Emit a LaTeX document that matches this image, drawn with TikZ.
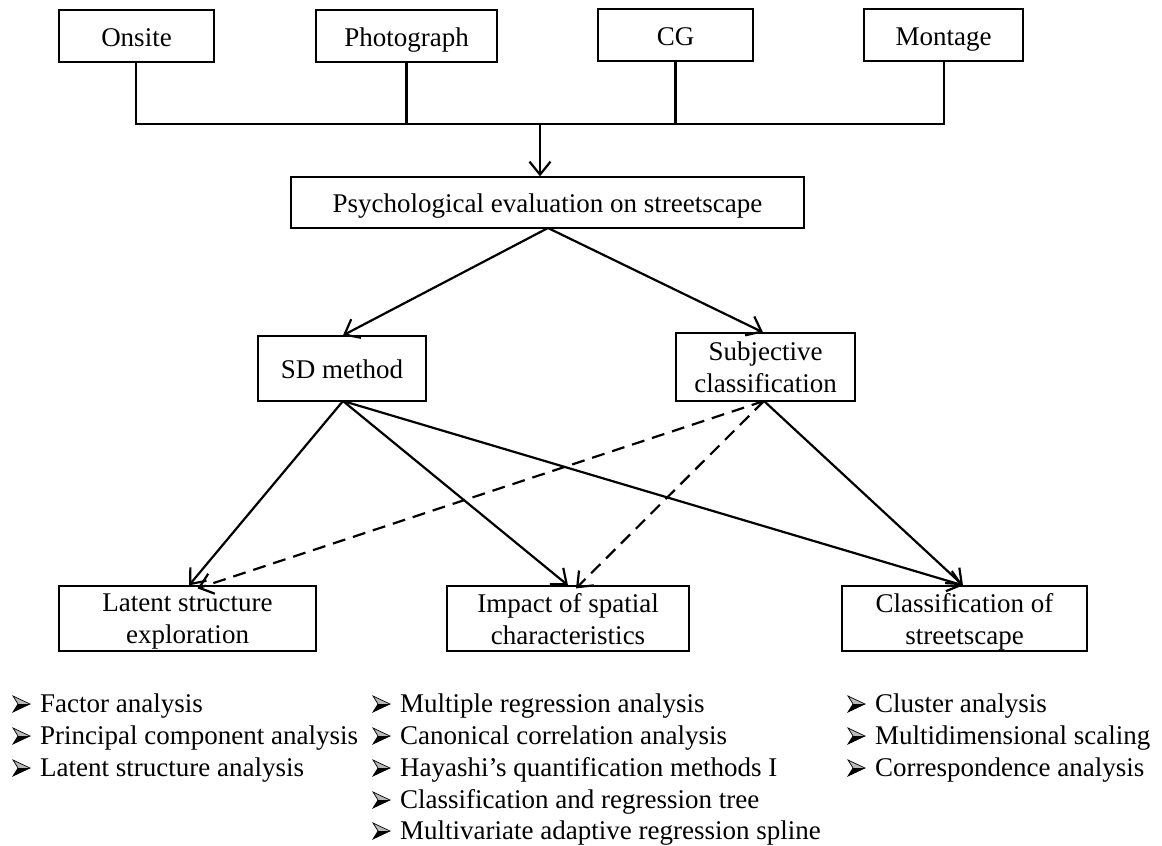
\documentclass[tikz,border=0pt]{standalone}
\usepackage{fontspec}
\setmainfont{Liberation Serif}
\usetikzlibrary{arrows.meta}
\begin{document}
\begin{tikzpicture}[x=1pt,y=-1pt,
  box/.style={draw, line width=1.3pt, inner sep=0pt, font=\fontsize{27}{32}\selectfont, align=center},
  onebox/.style={box, text height=20pt, text depth=0pt},
  conn/.style={line width=2.2pt},
  arr/.style={conn, -{Straight Barb[length=13pt,width=21pt]}},
  dsh/.style={arr, dash pattern=on 13pt off 8pt},
  item/.style={anchor=base west, inner sep=0pt, font=\fontsize{27}{32}\selectfont},
  arrowbullet/.pic={
    \fill[gray!55] (0,-8) -- (17,0) -- (5,0) -- cycle;
    \fill[black] (5,0) -- (17,0) -- (0,8) -- cycle;
    \draw[line width=0.7pt, line join=miter] (0,-8) -- (17,0) -- (0,8) -- (5,0) -- cycle;
  }
]
\useasboundingbox[fill=white] (0,0) rectangle (1162,846);

% top boxes
\node[onebox, minimum width=155pt, minimum height=52pt] (on) at (136.5,36) {Onsite};
\node[onebox, minimum width=181pt, minimum height=52pt] (ph) at (406.5,36) {Photograph};
\node[onebox, minimum width=155pt, minimum height=52pt] (cg) at (675.5,35) {CG};
\node[onebox, minimum width=159pt, minimum height=52pt] (mo) at (943.5,35) {Montage};

\node[onebox, minimum width=513pt, minimum height=51pt] (ps) at (547.5,202.5) {Psychological evaluation on streetscape};

\node[onebox, minimum width=168pt, minimum height=65pt] (sd) at (342,368.5) {SD method};
\node[box, minimum width=179pt, minimum height=68pt] (sc) at (765.5,367) {Subjective\\classification};

\node[box, text depth=0pt, minimum width=257pt, minimum height=65pt] (la) at (187.5,618.5) {Latent structure\\exploration};
\node[box, text depth=0pt, minimum width=242pt, minimum height=65pt] (im) at (568,618.5) {Impact of spatial\\characteristics};
\node[box, text depth=0pt, minimum width=245pt, minimum height=65pt] (cl) at (964.5,618.5) {Classification of\\streetscape};

% bus
\coordinate (bl) at (136,124);
\coordinate (br) at (944,124);
\coordinate (bm) at (540,124);
\draw[conn] (on.south -| bl) -- (bl) -- (br) -- (mo.south -| br);
\draw[conn] (ph.south) -- (ph.south |- bl);
\draw[conn] (cg.south) -- (cg.south |- bl);
\draw[arr] (bm) -- (bm |- ps.north);

% psych to methods
\coordinate (psb) at (548,228);
\draw[arr] (psb) -- ([xshift=1pt]sd.north);
\draw[arr] (psb) -- ([xshift=-2.5pt]sc.north);

% SD method to outcomes
\coordinate (sdb) at (343,401);
\draw[arr] (sdb) -- ([xshift=1.5pt]la.north);
\draw[arr] (sdb) -- (im.north);
\draw[arr] (sdb) -- ([xshift=-1.5pt]cl.north);

% subjective classification to outcomes
\coordinate (scb) at (764,401);
\draw[arr] (scb) -- ([xshift=-1.5pt]cl.north);
\draw[dsh] (scb) -- ([xshift=10pt,yshift=-3pt]la.north);
\draw[dsh] (scb) -- ([xshift=8pt,yshift=-3pt]im.north);

% lists
\node[item] (l1) at (40,712) {Factor analysis};
\node[item] (l2) at (40,744) {Principal component analysis};
\node[item] (l3) at (40,776) {Latent structure analysis};

\node[item] (m1) at (400,712) {Multiple regression analysis};
\node[item] (m2) at (400,744) {Canonical correlation analysis};
\node[item] (m3) at (400,776) {Hayashi’s quantification methods I};
\node[item] (m4) at (400,808) {Classification and regression tree};
\node[item] (m5) at (400,839) {Multivariate adaptive regression spline};

\node[item] (r1) at (875,712) {Cluster analysis};
\node[item] (r2) at (875,744) {Multidimensional scaling};
\node[item] (r3) at (875,776) {Correspondence analysis};

\foreach \n in {l1,l2,l3,m1,m2,m3,m4,m5,r1,r2,r3}
  \pic at ([xshift=-27pt,yshift=8pt]\n.base west) {arrowbullet};
\end{tikzpicture}
\end{document}
